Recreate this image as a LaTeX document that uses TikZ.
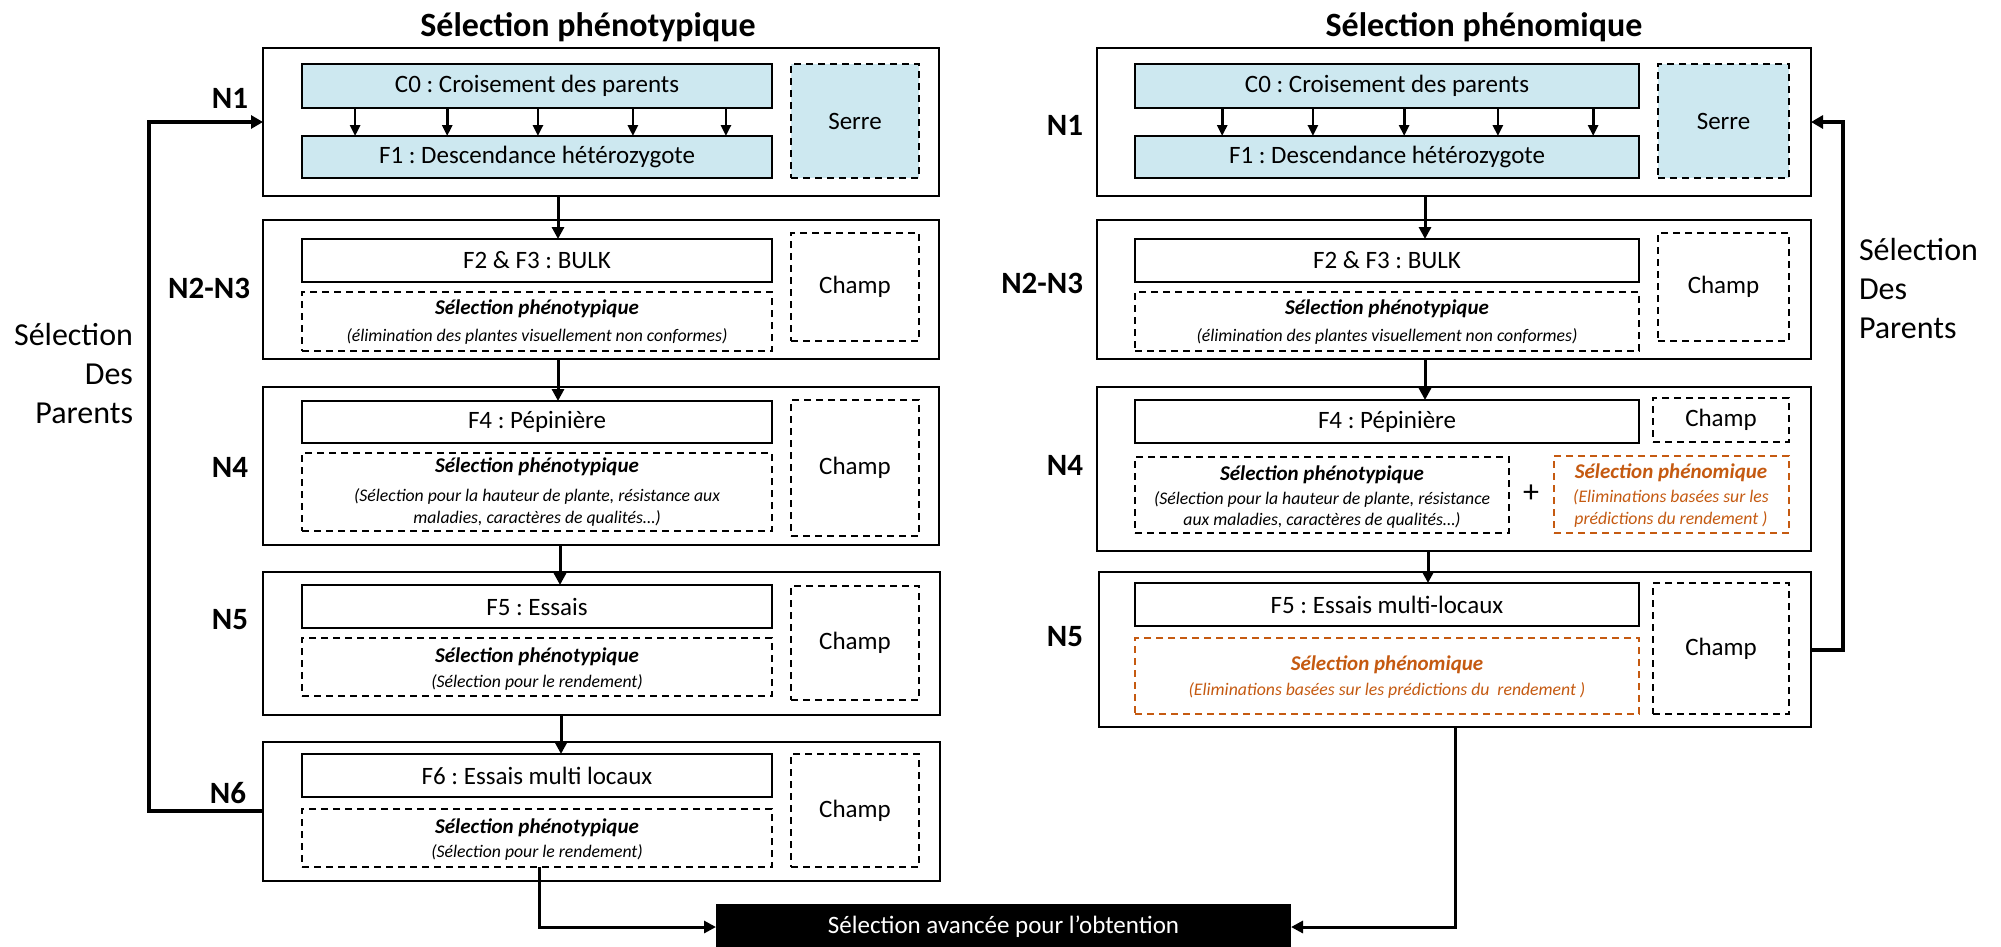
\documentclass[tikz,border=0pt]{standalone}
\usepackage{fontspec}
\setmainfont{Carlito}
\usetikzlibrary{arrows.meta,calc}
\definecolor{lblue}{RGB}{205,232,240}
\definecolor{orng}{RGB}{197,90,17}
\newcommand\fs[1]{\fontsize{#1}{#1}\selectfont}
\frenchspacing
\begin{document}
\frenchspacing
\begin{tikzpicture}[x=1pt,y=-1pt,
  every node/.style={inner sep=0pt, outer sep=0pt},
  outer/.style={draw, line width=2.2pt, anchor=north west, fill=white},
  sbox/.style={draw, line width=2.2pt, anchor=north west, font=\fs{25}},
  bbox/.style={sbox, fill=lblue},
  dbox/.style={draw, line width=1.8pt, dash pattern=on 7pt off 5pt, anchor=north west, font=\fs{25}},
  obox/.style={dbox, draw=orng},
  ttl/.style={font=\fs{34}\bfseries},
  lvl/.style={font=\fs{31}\bfseries},
  st/.style={font=\fs{21}\bfseries\itshape},
  sb/.style={font=\fs{17.7}\itshape},
  arr/.style={line width=3pt, -{Triangle[length=12pt,width=12pt]}},
  sarr/.style={line width=2.7pt, -{Triangle[length=11pt,width=10pt]}},
  fb/.style={line width=4.5pt, -{Triangle[length=12pt,width=13pt]}}
]
\useasboundingbox (0,0) rectangle (2001,946);
\fill[white] (0,0) rectangle (2001,946);

% ---------- titles ----------
\node[ttl] (tL) at (588,27) {Sélection phénotypique};
\node[ttl] (tR) at (1484,27) {Sélection phénomique};

% ---------- left column ----------
\node[outer, minimum width=676, minimum height=148] (L1) at (263,48) {};
\node[bbox, minimum width=470, minimum height=44] (C0) at (302,64) {C0 : Croisement des parents};
\node[bbox, minimum width=470, minimum height=42] (F1) at (302,136) {F1 : Descendance hétérozygote};
\node[dbox, fill=lblue, minimum width=128, minimum height=114] (SeL) at (791,64) {Serre};
\foreach \f in {0.113,0.309,0.502,0.704,0.902}{
  \draw[sarr] ($(C0.south west)!\f!(C0.south east)$) -- ($(F1.north west)!\f!(F1.north east)$);
}
\node[lvl, anchor=east] (n1L) at (248,98) {N1};

\node[outer, minimum width=676, minimum height=139] (L2) at (263,220) {};
\node[sbox, minimum width=470, minimum height=43] (F2) at (302,239) {F2 \& F3 : BULK};
\node[dbox, minimum width=470, minimum height=59] (S2) at (302,292) {};
\node[st] (S2a) at (537,309) {Sélection phénotypique};
\node[sb] (S2b) at (537,336) {(élimination des plantes visuellement non conformes)};
\node[dbox, minimum width=128, minimum height=108] (Ch2) at (791,233) {Champ};
\node[lvl, anchor=east] (n2L) at (250,288) {N2-N3};

\node[outer, minimum width=676, minimum height=158] (L4) at (263,387) {};
\node[sbox, minimum width=470, minimum height=42] (F4) at (302,401) {F4 : Pépinière};
\node[dbox, minimum width=470, minimum height=78] (S4) at (302,453) {};
\node[st] (S4a) at (537,467) {Sélection phénotypique};
\node[sb] (S4b) at (537,496) {(Sélection pour la hauteur de plante, résistance aux};
\node[sb] (S4c) at (537,518) {maladies, caractères de qualités…)};
\node[dbox, minimum width=128, minimum height=136] (Ch4) at (791,400) {Champ};
\node[lvl, anchor=east] (n4L) at (248,467) {N4};

\node[outer, minimum width=677, minimum height=143] (L5) at (263,572) {};
\node[sbox, minimum width=470, minimum height=43] (F5) at (302,585) {F5 : Essais};
\node[dbox, minimum width=470, minimum height=58] (S5) at (302,638) {};
\node[st] (S5a) at (537,657) {Sélection phénotypique};
\node[sb] (S5b) at (537,682) {(Sélection pour le rendement)};
\node[dbox, minimum width=128, minimum height=114] (Ch5) at (791,586) {Champ};
\node[lvl, anchor=east] (n5L) at (248,620) {N5};

\node[outer, minimum width=677, minimum height=139] (L6) at (263,742) {};
\node[sbox, minimum width=470, minimum height=43] (F6) at (302,754) {F6 : Essais multi locaux};
\node[dbox, minimum width=470, minimum height=58] (S6) at (302,809) {};
\node[st] (S6a) at (537,828) {Sélection phénotypique};
\node[sb] (S6b) at (537,852) {(Sélection pour le rendement)};
\node[dbox, minimum width=128, minimum height=113] (Ch6) at (791,754) {Champ};
\node[lvl, anchor=east] (n6L) at (246,793) {N6};

\node[align=right, anchor=east, font=\fontsize{32}{39}\selectfont] (spL) at (133,373) {Sélection\\Des\\Parents};

% ---------- right column ----------
\node[outer, minimum width=714, minimum height=148] (R1) at (1097,48) {};
\node[bbox, minimum width=504, minimum height=44] (C0r) at (1135,64) {C0 : Croisement des parents};
\node[bbox, minimum width=504, minimum height=42] (F1r) at (1135,136) {F1 : Descendance hétérozygote};
\node[dbox, fill=lblue, minimum width=131, minimum height=114] (SeR) at (1658,64) {Serre};
\foreach \f in {0.173,0.353,0.534,0.720,0.909}{
  \draw[sarr] ($(C0r.south west)!\f!(C0r.south east)$) -- ($(F1r.north west)!\f!(F1r.north east)$);
}
\node[lvl, anchor=east] (n1R) at (1083,125) {N1};

\node[outer, minimum width=714, minimum height=139] (R2) at (1097,220) {};
\node[sbox, minimum width=504, minimum height=43] (F2r) at (1135,239) {F2 \& F3 : BULK};
\node[dbox, minimum width=504, minimum height=59] (S2r) at (1135,292) {};
\node[st] (S2ra) at (1387,309) {Sélection phénotypique};
\node[sb] (S2rb) at (1387,336) {(élimination des plantes visuellement non conformes)};
\node[dbox, minimum width=131, minimum height=108] (Ch2r) at (1658,233) {Champ};
\node[lvl, anchor=east] (n2R) at (1083,283) {N2-N3};

\node[outer, minimum width=714, minimum height=164] (R4) at (1097,387) {};
\node[sbox, minimum width=504, minimum height=43] (F4r) at (1135,400) {F4 : Pépinière};
\node[dbox, minimum width=136, minimum height=44] (Ch4r) at (1653,398) {Champ};
\node[dbox, minimum width=374, minimum height=76] (S4r) at (1135,457) {};
\node[st] (S4ra) at (1322,475) {Sélection phénotypique};
\node[sb] (S4rb) at (1322,499) {(Sélection pour la hauteur de plante, résistance};
\node[sb] (S4rc) at (1322,520) {aux maladies, caractères de qualités…)};
\node[font=\fs{32}] (plus) at (1531,494) {+};
\node[obox, minimum width=235, minimum height=77] (S4o) at (1554,456) {};
\node[st, text=orng] (S4oa) at (1671,473) {Sélection phénomique};
\node[sb, text=orng] (S4ob) at (1671,497) {(Eliminations basées sur les};
\node[sb, text=orng] (S4oc) at (1671,519) {prédictions du rendement )};
\node[lvl, anchor=east] (n4R) at (1083,465) {N4};

\node[outer, minimum width=712, minimum height=155] (R5) at (1099,572) {};
\node[sbox, minimum width=504, minimum height=43] (F5r) at (1135,583) {F5 : Essais multi-locaux};
\node[obox, minimum width=504, minimum height=76] (S5o) at (1135,638) {};
\node[st, text=orng] (S5oa) at (1387,665) {Sélection phénomique};
\node[sb, text=orng] (S5ob) at (1387,690) {(Eliminations basées sur les prédictions du \ rendement )};
\node[dbox, minimum width=136, minimum height=131] (Ch5r) at (1653,583) {Champ};
\node[lvl, anchor=east] (n5R) at (1083,637) {N5};

\node[align=left, anchor=west, font=\fontsize{32}{39}\selectfont] (spR) at (1859,288) {Sélection\\Des\\Parents};

% ---------- final box ----------
\node[fill=black, anchor=north west, minimum width=575, minimum height=46, text=white, font=\fs{25}] (Fin) at (716,904) {Sélection avancée pour l’obtention};

% ---------- connectors ----------
\coordinate (xa) at (558,0);
\coordinate (xb) at (560,0);
\coordinate (xc) at (561,0);
\coordinate (xd) at (1425,0);
\coordinate (xe) at (1428,0);
\draw[arr] (L1.south -| xa) -- (F2.north -| xa);
\draw[arr] (L2.south -| xa) -- (F4.north -| xa);
\draw[arr] (L4.south -| xb) -- (F5.north -| xb);
\draw[arr] (L5.south -| xc) -- (F6.north -| xc);
\draw[arr] (R1.south -| xd) -- (F2r.north -| xd);
\draw[arr] (R2.south -| xd) -- (F4r.north -| xd);
\draw[arr] (R4.south -| xe) -- (F5r.north -| xe);

\coordinate (fl1) at (149,811);
\coordinate (fl2) at (149,122);
\draw[fb] (L6.west |- fl1) -- (fl1) -- (fl2) -- (L1.west |- fl2);
\coordinate (fr1) at (1843,650);
\coordinate (fr2) at (1843,122);
\draw[fb] (R5.east |- fr1) -- (fr1) -- (fr2) -- (R1.east |- fr2);

\coordinate (bl) at (539,927);
\draw[arr] (S6.south -| bl) -- (bl) -- (Fin.west |- bl);
\coordinate (br) at (1455,927);
\draw[arr] (R5.south -| br) -- (br) -- (Fin.east |- br);
\end{tikzpicture}
\end{document}
